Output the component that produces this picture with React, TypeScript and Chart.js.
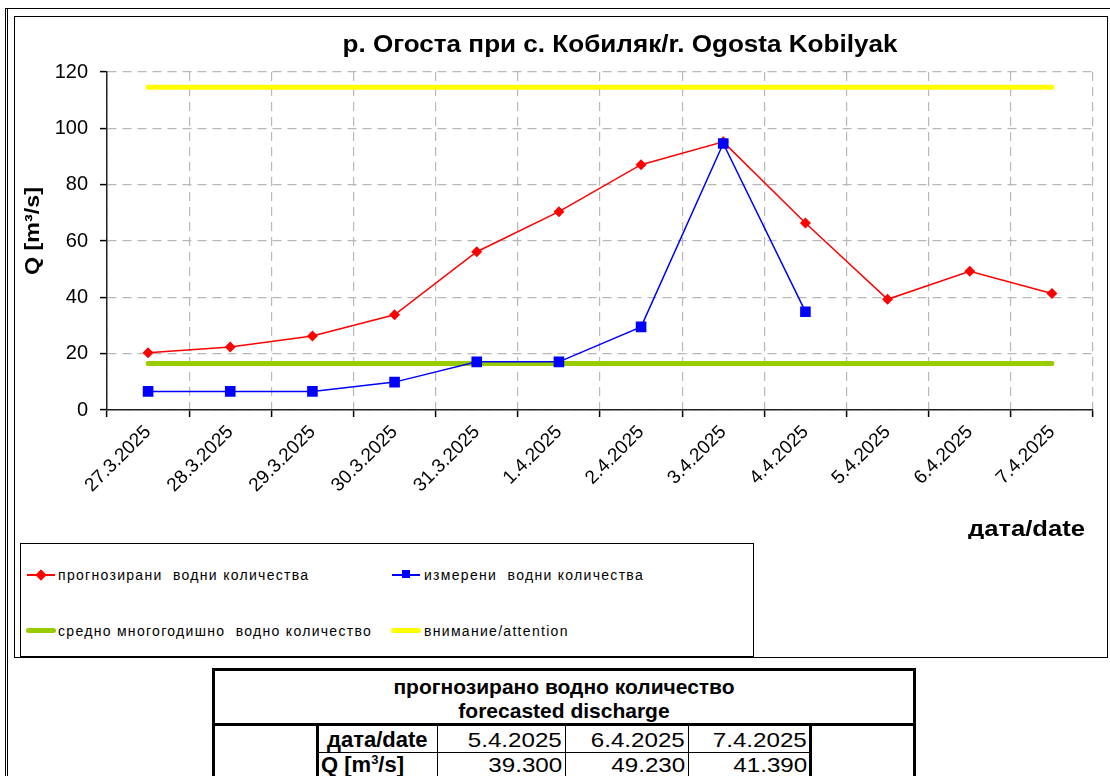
import React, { useEffect, useRef } from "react";
import { Chart, registerables } from "chart.js";

Chart.register(...registerables);

const categories = [
  "27.3.2025", "28.3.2025", "29.3.2025", "30.3.2025", "31.3.2025", "1.4.2025",
  "2.4.2025", "3.4.2025", "4.4.2025", "5.4.2025", "6.4.2025", "7.4.2025",
];
const forecast = [20.3, 22.4, 26.3, 33.8, 56.2, 70.4, 87.1, 95.2, 66.4, 39.3, 49.23, 41.39];
const measured = [6.6, 6.6, 6.6, 9.9, 17.1, 17.1, 29.5, 94.6, 34.9, null, null, null];
const average = [16.5, 16.5, 16.5, 16.5, 16.5, 16.5, 16.5, 16.5, 16.5, 16.5, 16.5, 16.5];
const attention = [114.6, 114.6, 114.6, 114.6, 114.6, 114.6, 114.6, 114.6, 114.6, 114.6, 114.6, 114.6];

const Y_MIN = 0;
const Y_MAX = 120;
const Y_STEP = 20;

const TITLE = "р. Огоста при с. Кобиляк/r. Ogosta Kobilyak";
const Y_TITLE = "Q [m³/s]";
const X_TITLE = "дата/date";

const legendLabels = [
  "прогнозирани  водни количества",
  "измерени  водни количества",
  "средно многогодишно  водно количество",
  "внимание/attention",
];

const tableTitle1 = "прогнозирано водно количество";
const tableTitle2 = "forecasted discharge";
const tableDateLabel = "дата/date";
const tableDates = ["5.4.2025", "6.4.2025", "7.4.2025"];
const tableValues = ["39.300", "49.230", "41.390"];

const FONT = 'Arial, "Liberation Sans", sans-serif';

// canvas placement on the page
const CX = 15;
const CY = 17;

function drawFit(ctx: CanvasRenderingContext2D, text: string, x: number, y: number, font: string, width: number, align: "left" | "center" | "right") {
  ctx.save();
  ctx.font = font;
  const w = ctx.measureText(text).width;
  const k = width / w;
  ctx.translate(x, y);
  ctx.scale(k, 1);
  ctx.textAlign = align;
  ctx.textBaseline = "middle";
  ctx.fillText(text, 0, 0);
  ctx.restore();
}

export default function App() {
  const ref = useRef<HTMLCanvasElement | null>(null);

  useEffect(() => {
    if (!ref.current) return;
    Chart.defaults.font.family = FONT;
    const textPlugin = {
      id: "texts",
      afterDraw(chart: any) {
        const ctx = chart.ctx as CanvasRenderingContext2D;
        ctx.save();
        ctx.fillStyle = "#000";
        drawFit(ctx, TITLE, 620 - CX, 46 - CY, `bold 23px ${FONT}`, 555, "center");
        drawFit(ctx, X_TITLE, 1085 - CX, 530 - CY, `bold 22px ${FONT}`, 117, "right");
        ctx.translate(33 - CX, 231 - CY);
        ctx.rotate(-Math.PI / 2);
        drawFit(ctx, Y_TITLE, 0, 0, `bold 20px ${FONT}`, 88, "center");
        ctx.restore();
      },
    };

    const chart = new Chart(ref.current, {
      type: "line",
      data: {
        labels: categories,
        datasets: [
          {
            label: legendLabels[1],
            data: measured,
            borderColor: "#0000ff",
            backgroundColor: "#0000ff",
            borderWidth: 1.5,
            pointStyle: "rect",
            pointRadius: 7.5,
            pointBorderWidth: 0,
            spanGaps: false,
          },
          {
            label: legendLabels[0],
            data: forecast,
            borderColor: "#ff0000",
            backgroundColor: "#ff0000",
            borderWidth: 1.5,
            pointStyle: "rectRot",
            pointRadius: 5.5,
            pointBorderWidth: 0,
          },
          {
            label: legendLabels[2],
            data: average,
            borderColor: "#99cc00",
            borderWidth: 5,
            pointRadius: 0,
            borderCapStyle: "round",
          },
          {
            label: legendLabels[3],
            data: attention,
            borderColor: "#ffff00",
            borderWidth: 5,
            pointRadius: 0,
            borderCapStyle: "round",
          },
        ],
      },
      options: {
        animation: false,
        responsive: false,
        maintainAspectRatio: false,
        layout: { padding: { top: 55, right: 12, left: 0, bottom: 0 } },
        plugins: {
          legend: { display: false },
          title: { display: false },
          tooltip: { enabled: false },
        },
        elements: { line: { tension: 0 } },
        scales: {
          x: {
            type: "category",
            offset: true,
            grid: {
              offset: true,
              color: "#b8b8b8",
              lineWidth: 1.2,
              tickLength: 7,
              tickColor: "#000",
              tickWidth: 1.5,
              tickBorderDash: [],
            },
            border: { color: "#222", width: 1.5, dash: [9, 6] },
            ticks: {
              autoSkip: false,
              maxRotation: 45,
              minRotation: 45,
              color: "#000",
              padding: 4,
              font: { size: 19 },
            },
            afterFit(scale: any) {
              scale.height = 129;
            },
          },
          y: {
            min: Y_MIN,
            max: Y_MAX,
            ticks: {
              stepSize: Y_STEP,
              color: "#000",
              padding: 12,
              font: { size: 20 },
            },
            grid: {
              color: "#b8b8b8",
              lineWidth: 1.2,
              tickLength: 7,
              tickColor: "#000",
              tickWidth: 1.5,
              tickBorderDash: [],
            },
            border: { color: "#222", width: 1.5, dash: [9, 6] },
            afterFit(scale: any) {
              scale.width = 92;
            },
          },
        },
      },
      plugins: [textPlugin],
    } as any);
    return () => chart.destroy();
  }, []);

  const abs = (s: React.CSSProperties): React.CSSProperties => ({ position: "absolute", boxSizing: "border-box", ...s });
  const legendText: React.CSSProperties = { fontFamily: FONT, fontSize: 14, letterSpacing: 1.3, whiteSpace: "pre", lineHeight: "16px" };
  const cellText: React.CSSProperties = { fontFamily: FONT, fontSize: 21, lineHeight: "24px", whiteSpace: "pre" };

  const colX = [317, 437, 565, 688, 810];

  return (
    <div style={abs({ left: 0, top: 0, width: 1110, height: 776, overflow: "hidden", background: "#fff" })}>
      {/* outer frame */}
      <div style={abs({ left: 5, top: 8, width: 1200, height: 900, borderLeft: "3px double #000", borderTop: "1px solid #000" })} />
      {/* chart frame */}
      <div style={abs({ left: 14, top: 16, width: 1094, height: 642, border: "1px solid #000" })} />
      <canvas ref={ref} width={1090} height={522} style={{ position: "absolute", left: CX, top: CY, width: 1090, height: 522 }} />

      {/* legend */}
      <div style={abs({ left: 20, top: 543, width: 734, height: 114, border: "1px solid #000", background: "#fff" })} />
      {/* row 1 */}
      <div style={abs({ left: 27, top: 574, width: 28, height: 2, background: "#ff0000" })} />
      <div style={abs({ left: 37, top: 571, width: 8, height: 8, background: "#ff0000", transform: "rotate(45deg)" })} />
      <div style={abs({ left: 58, top: 567, ...legendText })}>{legendLabels[0]}</div>
      <div style={abs({ left: 392, top: 574, width: 28, height: 2, background: "#0000ff" })} />
      <div style={abs({ left: 402, top: 570, width: 8, height: 8, background: "#0000ff" })} />
      <div style={abs({ left: 424, top: 567, ...legendText })}>{legendLabels[1]}</div>
      {/* row 2 */}
      <div style={abs({ left: 26, top: 628, width: 30, height: 5, background: "#99cc00", borderRadius: 3 })} />
      <div style={abs({ left: 58, top: 623, ...legendText })}>{legendLabels[2]}</div>
      <div style={abs({ left: 391, top: 628, width: 30, height: 5, background: "#ffff00", borderRadius: 3 })} />
      <div style={abs({ left: 424, top: 623, ...legendText })}>{legendLabels[3]}</div>

      {/* table */}
      <div style={abs({ left: 212, top: 668, width: 704, height: 200, border: "3px solid #000" })} />
      <div style={abs({ left: 212, top: 723, width: 704, height: 3, background: "#000" })} />
      <div style={abs({ left: 215, top: 675, width: 698, textAlign: "center", fontFamily: FONT, fontWeight: "bold", fontSize: 21, lineHeight: "24px" })}>
        {tableTitle1}
        <br />
        {tableTitle2}
      </div>
      {colX.map((x, i) => (
        <div key={i} style={abs({ left: i === 0 || i === 4 ? x - 1 : x, top: 726, width: i === 0 || i === 4 ? 3 : 1, height: 60, background: "#000" })} />
      ))}
      <div style={abs({ left: 317, top: 752, width: 494, height: 1, background: "#000" })} />
      <div style={abs({ left: 327, top: 728, ...cellText, fontWeight: "bold", fontSize: 22 })}>{tableDateLabel}</div>
      <div style={abs({ left: 321, top: 753, ...cellText, fontWeight: "bold", fontSize: 22 })}>
        Q [m<sup style={{ fontSize: 13, lineHeight: 0 }}>3</sup>/s]
      </div>
      {tableDates.map((d, i) => (
        <div key={"d" + i} style={abs({ left: colX[i + 1], top: 728, width: colX[i + 2] - colX[i + 1] - 3, textAlign: "right", ...cellText })}>
          <span style={{ display: "inline-block", transform: "scaleX(1.15)", transformOrigin: "right center" }}>{d}</span>
        </div>
      ))}
      {tableValues.map((v, i) => (
        <div key={"v" + i} style={abs({ left: colX[i + 1], top: 753, width: colX[i + 2] - colX[i + 1] - 3, textAlign: "right", ...cellText })}>
          <span style={{ display: "inline-block", transform: "scaleX(1.15)", transformOrigin: "right center" }}>{v}</span>
        </div>
      ))}
    </div>
  );
}
